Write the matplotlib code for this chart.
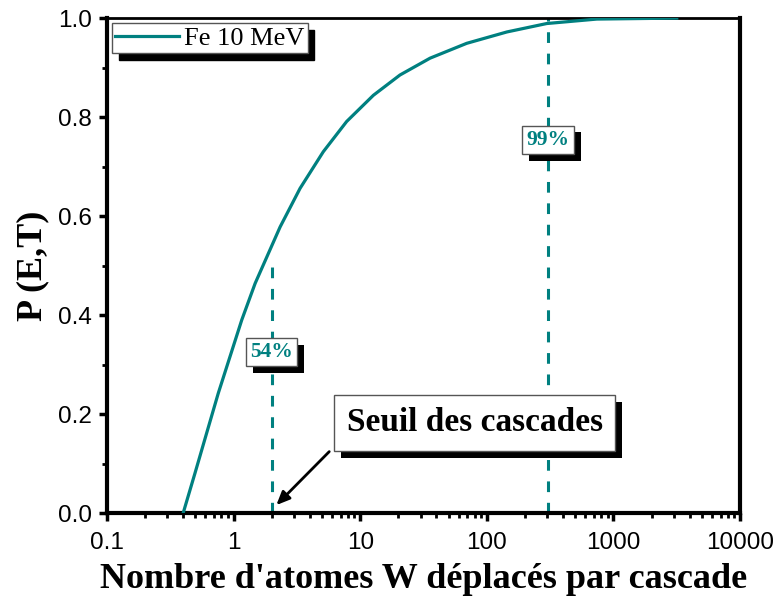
import numpy as np
import matplotlib.pyplot as plt
import matplotlib.patheffects as pe
from matplotlib.ticker import LogLocator, MultipleLocator, FixedLocator, FixedFormatter

# cumulative probability of displaced W atoms per cascade (Fe, 10 MeV)
n_atoms = [0.40, 0.495, 0.612, 0.757, 0.937, 1.16, 1.48, 2.33, 3.35, 5.11,
           7.81, 12.7, 20.6, 35.6, 69.3, 144, 297, 738, 3160]
prob = [0.0, 0.080, 0.161, 0.242, 0.316, 0.390, 0.464, 0.578, 0.656, 0.730,
        0.791, 0.844, 0.885, 0.919, 0.949, 0.972, 0.989, 0.998, 1.0]

thresholds = [2, 305]
threshold_tops = [0.51, 1.0]
threshold_labels = ['54%', '99%']
label_y = [0.325, 0.754]

teal = '#008080'
serif = 'Liberation Serif'
sans = 'Liberation Sans'

shadow = [pe.SimplePatchShadow(offset=(5, -5), shadow_rgbFace='black', alpha=1),
          pe.Normal()]

fig = plt.figure(figsize=(7.75, 5.97), dpi=100)
ax = fig.add_axes([0.138, 0.1407, 0.817, 0.829])

ax.plot(n_atoms, prob, color=teal, lw=2.3, label='Fe 10 MeV', zorder=3)

for xv, top in zip(thresholds, threshold_tops):
    ax.plot([xv, xv], [0, top], color=teal, lw=2.2, ls=(0, (3.5, 3.5)), zorder=2)


def boxed(x, y, text, color, size, pad=0.25):
    # white framed label with a black drop shadow
    ax.text(x, y, text, ha='center', va='center', fontsize=size,
            fontweight='bold', family=serif, color=color, zorder=5,
            bbox=dict(boxstyle=f'square,pad={pad}', fc='white', ec='#555555',
                      lw=1, path_effects=shadow))


for xv, yv, txt in zip(thresholds, label_y, threshold_labels):
    boxed(xv, yv, txt, teal, 15.5, pad=0.2)

boxed(80, 0.182, 'Seuil des cascades', 'black', 24, pad=0.38)
ax.annotate('', xy=(2.1, 0.012), xytext=(5.9, 0.128),
            arrowprops=dict(arrowstyle='-|>,head_length=0.8,head_width=0.35',
                            color='black', lw=2), zorder=6)

ax.set_xscale('log')
ax.set_xlim(0.1, 10000)
ax.set_ylim(0, 1.0)

xt = [0.1, 1, 10, 100, 1000, 10000]
ax.xaxis.set_major_locator(FixedLocator(xt))
ax.xaxis.set_major_formatter(FixedFormatter(['0.1', '1', '10', '100', '1000', '10000']))
ax.xaxis.set_minor_locator(LogLocator(base=10, subs=np.arange(2, 10)))
ax.yaxis.set_major_locator(MultipleLocator(0.2))
ax.yaxis.set_minor_locator(MultipleLocator(0.1))
ax.yaxis.set_major_formatter(plt.FuncFormatter(lambda v, p: f'{v:.1f}'))

ax.tick_params(which='major', direction='out', length=6, width=2.5, labelsize=17.5)
ax.tick_params(which='minor', direction='out', length=3.5, width=2)
ax.tick_params(axis='x', which='major', pad=8)
ax.tick_params(axis='y', which='major', pad=5)
ax.tick_params(top=False, right=False, which='both')
for lab in ax.get_xticklabels() + ax.get_yticklabels():
    lab.set_family(sans)

for side in ['left', 'bottom', 'right']:
    ax.spines[side].set_linewidth(3)
ax.spines['top'].set_linewidth(2)

ax.set_xlabel("Nombre d'atomes W déplacés par cascade", family=serif,
              fontweight='bold', fontsize=26, labelpad=6)
ax.set_ylabel('P (E,T)', family=serif, fontweight='bold', fontsize=26, labelpad=6)

leg = ax.legend(loc='upper left', prop={'family': serif, 'size': 19},
                frameon=True, fancybox=False, borderaxespad=0.2,
                handlelength=2.4, handletextpad=0.2, borderpad=0.12,
                shadow={'ox': 5, 'oy': -5, 'facecolor': 'black',
                        'edgecolor': 'black', 'alpha': 1})
leg.get_frame().set_edgecolor('#555555')
leg.get_frame().set_linewidth(1)

fig.savefig('out.png', dpi=100)
